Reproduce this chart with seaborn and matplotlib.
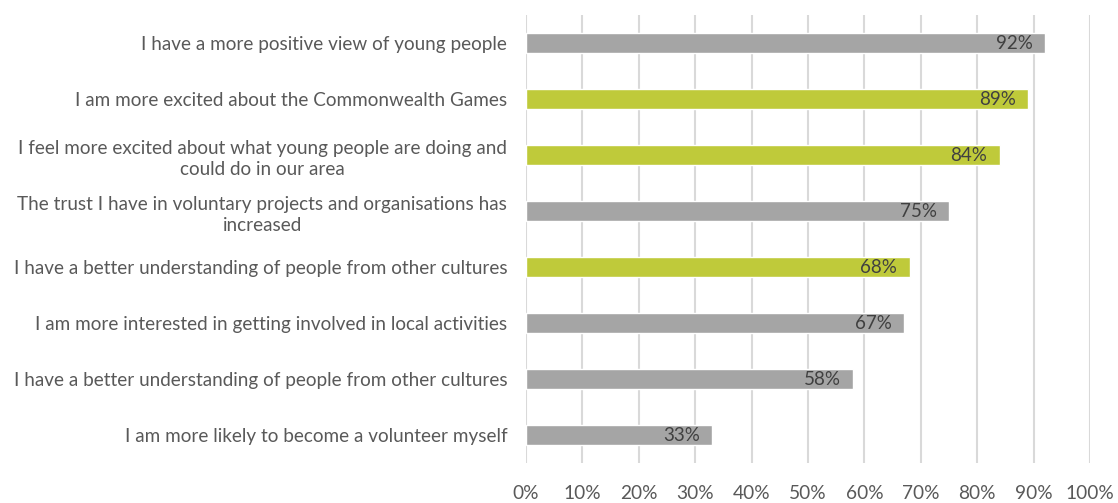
import matplotlib
matplotlib.use("Agg")
import matplotlib.pyplot as plt
import seaborn as sns
import pandas as pd
from matplotlib.ticker import MultipleLocator, FuncFormatter

statements = [
    "I have a more positive view of young people",
    "I am more excited about the Commonwealth Games",
    "I feel more excited about what young people are doing and\ncould do in our area",
    "The trust I have in voluntary projects and organisations has\nincreased",
    "I have a better understanding of people from other cultures",
    "I am more interested in getting involved in local activities",
    "I have a better understanding of people from other cultures",
    "I am more likely to become a volunteer myself",
]
shares = [92, 89, 84, 75, 68, 67, 58, 33]
highlight = [False, True, True, False, True, False, False, False]

GREY = "#A5A5A5"
GREEN = "#BFCA3A"
TEXT = "#595959"

df = pd.DataFrame({
    "row": [str(i) for i in range(len(statements))],
    "share": shares,
    "group": ["hl" if h else "base" for h in highlight],
})

sns.set_theme(style="white")
plt.rcParams["font.family"] = ["Lato", "DejaVu Sans"]

fig = plt.figure(figsize=(11.18, 5.03), dpi=100)
ax = fig.add_axes([0.4705, 0.0795, 0.975 - 0.4705, 0.970 - 0.0795])

sns.barplot(data=df, x="share", y="row", hue="group", dodge=False,
            palette={"base": GREY, "hl": GREEN}, width=0.35, saturation=1,
            orient="h", legend=False, ax=ax, zorder=3)

ax.set_xlim(0, 100)
ax.xaxis.set_major_locator(MultipleLocator(10))
ax.xaxis.set_major_formatter(FuncFormatter(lambda v, _: f"{v:.0f}%"))
ax.grid(axis="x", color="#D9D9D9", linewidth=1.5, zorder=0)
ax.set_axisbelow(True)
for s in ax.spines.values():
    s.set_visible(False)

ax.set_yticks(range(len(statements)))
ax.set_yticklabels(statements, ha="right", multialignment="center",
                   linespacing=1.35)
ax.tick_params(axis="y", length=0, pad=13.5, labelsize=13.6, labelcolor=TEXT)
ax.tick_params(axis="x", length=0, pad=16, labelsize=13.8, labelcolor=TEXT)
ax.set_xlabel("")
ax.set_ylabel("")

for i, v in enumerate(shares):
    ax.text(v - 2.2, i, f"{v}%", ha="right", va="center",
            fontsize=13.5, color="#404040", zorder=4)

fig.savefig("out.png", dpi=100)
